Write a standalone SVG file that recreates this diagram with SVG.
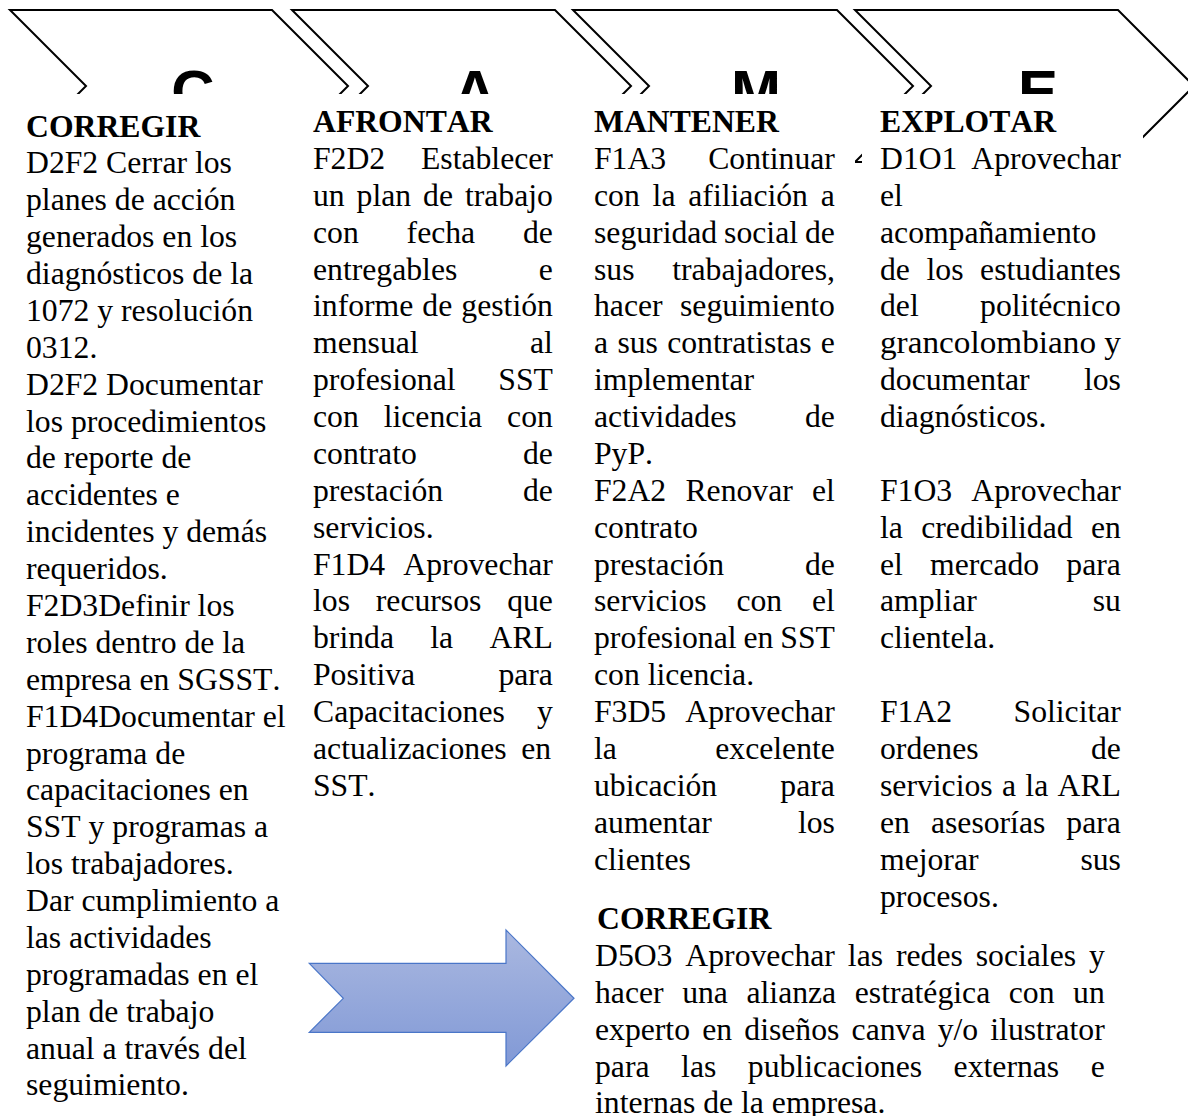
<svg xmlns="http://www.w3.org/2000/svg" width="1188" height="1116" viewBox="0 0 1188 1116">
<style>
.chev{fill:none;stroke:#000;stroke-width:2;stroke-linejoin:miter}
.big{font-family:"Liberation Sans",Arial,sans-serif;font-weight:bold;font-size:60px;fill:#000;text-anchor:middle}
.box{fill:#fff}
text.t{font-family:"Liberation Serif","Times New Roman",serif;font-size:31.7px;fill:#000;font-kerning:none}
text.h{font-weight:bold}
.arrow{fill:url(#ag);stroke:#4a76c8;stroke-width:1.2}
</style>
<defs>
<linearGradient id="ag" x1="0" y1="0" x2="0" y2="1">
<stop offset="0" stop-color="#aab8e0"/>
<stop offset="1" stop-color="#8199d6"/>
</linearGradient>
</defs>
<rect width="1188" height="1116" fill="#fff"/>
<g id="chevrons">
<g id="chev-c"><path class="chev" d="M10,10 H272 L348,86 L272,162 H10 L86,86 Z"/><text class="big" x="193" y="112">C</text></g>
<g id="chev-a"><path class="chev" d="M292,10 H555 L631,86 L555,162 H292 L368,86 Z"/><text class="big" x="475" y="112">A</text></g>
<g id="chev-m"><path class="chev" d="M573,10 H837 L913,86 L837,162 H573 L649,86 Z"/><text class="big" x="756" y="112">M</text></g>
<g id="chev-e"><path class="chev" d="M855,10 H1118 L1194,86 L1118,162 H855 L931,86 Z"/><text class="big" x="1038" y="112">E</text></g>
</g>
<g id="boxes">
<rect class="box" x="0" y="94" width="304" height="1022"/>
<rect class="box" x="304" y="94" width="283" height="1022"/>
<rect class="box" x="587" y="94" width="275" height="56"/>
<rect class="box" x="587" y="150" width="268" height="966"/>
<rect class="box" x="862" y="94" width="281" height="1022"/>
</g>
<g id="col-corregir">
<text class="t h" x="26" y="136.5">CORREGIR</text>
<text class="t" x="26" y="173.4">D2F2 Cerrar los</text>
<text class="t" x="26" y="210.3">planes de acción</text>
<text class="t" x="26" y="247.1">generados en los</text>
<text class="t" x="26" y="284">diagnósticos de la</text>
<text class="t" x="26" y="320.9">1072 y resolución</text>
<text class="t" x="26" y="357.8">0312.</text>
<text class="t" x="26" y="394.7">D2F2 Documentar</text>
<text class="t" x="26" y="431.5">los procedimientos</text>
<text class="t" x="26" y="468.4">de reporte de</text>
<text class="t" x="26" y="505.3">accidentes e</text>
<text class="t" x="26" y="542.2">incidentes y demás</text>
<text class="t" x="26" y="579.1">requeridos.</text>
<text class="t" x="26" y="615.9">F2D3Definir los</text>
<text class="t" x="26" y="652.8">roles dentro de la</text>
<text class="t" x="26" y="689.7">empresa en SGSST.</text>
<text class="t" x="26" y="726.6">F1D4Documentar el</text>
<text class="t" x="26" y="763.5">programa de</text>
<text class="t" x="26" y="800.3">capacitaciones en</text>
<text class="t" x="26" y="837.2">SST y programas a</text>
<text class="t" x="26" y="874.1">los trabajadores.</text>
<text class="t" x="26" y="911">Dar cumplimiento a</text>
<text class="t" x="26" y="947.9">las actividades</text>
<text class="t" x="26" y="984.7">programadas en el</text>
<text class="t" x="26" y="1021.6">plan de trabajo</text>
<text class="t" x="26" y="1058.5">anual a través del</text>
<text class="t" x="26" y="1095.4">seguimiento.</text>
</g>
<g id="col-afrontar">
<text class="t h" x="313" y="132">AFRONTAR</text>
<text class="t" x="313" y="168.9" word-spacing="27.84">F2D2 Establecer</text>
<text class="t" x="313" y="205.8" word-spacing="3.99">un plan de trabajo</text>
<text class="t" x="313" y="242.6" word-spacing="39.91">con fecha de</text>
<text class="t" x="313" y="279.5" word-spacing="73.64">entregables e</text>
<text class="t" x="313" y="316.4" word-spacing="1.14">informe de gestión</text>
<text class="t" x="313" y="353.3" word-spacing="103.53">mensual al</text>
<text class="t" x="313" y="390.2" word-spacing="34.84">profesional SST</text>
<text class="t" x="313" y="427" word-spacing="17">con licencia con</text>
<text class="t" x="313" y="463.9" word-spacing="98.27">contrato de</text>
<text class="t" x="313" y="500.8" word-spacing="71.86">prestación de</text>
<text class="t" x="313" y="537.7">servicios.</text>
<text class="t" x="313" y="574.6" word-spacing="10.24">F1D4 Aprovechar</text>
<text class="t" x="313" y="611.4" word-spacing="17.88">los recursos que</text>
<text class="t" x="313" y="648.3" word-spacing="28.44">brinda la ARL</text>
<text class="t" x="313" y="685.2" word-spacing="75.35">Positiva para</text>
<text class="t" x="313" y="722.1" word-spacing="24.32">Capacitaciones y</text>
<text class="t" x="313" y="759" word-spacing="6.85">actualizaciones en</text>
<text class="t" x="313" y="795.8">SST.</text>
</g>
<g id="col-mantener">
<text class="t h" x="594" y="132">MANTENER</text>
<text class="t" x="594" y="168.9" word-spacing="34.07">F1A3 Continuar</text>
<text class="t" x="594" y="205.8" word-spacing="4.92">con la afiliación a</text>
<text class="t" x="594" y="242.6" word-spacing="-0.99">seguridad social de</text>
<text class="t" x="594" y="279.5" word-spacing="29.72">sus trabajadores,</text>
<text class="t" x="594" y="316.4" word-spacing="9.47">hacer seguimiento</text>
<text class="t" x="594" y="353.3" word-spacing="1.39">a sus contratistas e</text>
<text class="t" x="594" y="390.2">implementar</text>
<text class="t" x="594" y="427" word-spacing="60.53">actividades de</text>
<text class="t" x="594" y="463.9">PyP.</text>
<text class="t" x="594" y="500.8" word-spacing="11.32">F2A2 Renovar el</text>
<text class="t" x="594" y="537.7">contrato</text>
<text class="t" x="594" y="574.6" word-spacing="72.86">prestación de</text>
<text class="t" x="594" y="611.4" word-spacing="21.9">servicios con el</text>
<text class="t" x="594" y="648.3" word-spacing="-1">profesional en SST</text>
<text class="t" x="594" y="685.2">con licencia.</text>
<text class="t" x="594" y="722.1" word-spacing="11.24">F3D5 Aprovechar</text>
<text class="t" x="594" y="759" word-spacing="90.49">la excelente</text>
<text class="t" x="594" y="795.8" word-spacing="55.27">ubicación para</text>
<text class="t" x="594" y="832.7" word-spacing="78.13">aumentar los</text>
<text class="t" x="594" y="869.6">clientes</text>
</g>
<g id="col-explotar">
<text class="t h" x="880" y="132">EXPLOTAR</text>
<text class="t" x="880" y="168.9" word-spacing="5.98">D1O1 Aprovechar</text>
<text class="t" x="880" y="205.8">el</text>
<text class="t" x="880" y="242.6">acompañamiento</text>
<text class="t" x="880" y="279.5" word-spacing="8.68">de los estudiantes</text>
<text class="t" x="880" y="316.4" word-spacing="53.46">del politécnico</text>
<text class="t" x="880" y="353.3" textLength="241" lengthAdjust="spacingAndGlyphs">grancolombiano y</text>
<text class="t" x="880" y="390.2" word-spacing="46.42">documentar los</text>
<text class="t" x="880" y="427">diagnósticos.</text>
<text class="t" x="880" y="500.8" word-spacing="11.24">F1O3 Aprovechar</text>
<text class="t" x="880" y="537.7" word-spacing="10.46">la credibilidad en</text>
<text class="t" x="880" y="574.6" word-spacing="19.28">el mercado para</text>
<text class="t" x="880" y="611.4" word-spacing="108.05">ampliar su</text>
<text class="t" x="880" y="648.3">clientela.</text>
<text class="t" x="880" y="722.1" word-spacing="53.43">F1A2 Solicitar</text>
<text class="t" x="880" y="759" word-spacing="104.56">ordenes de</text>
<text class="t" x="880" y="795.8" word-spacing="1.39">servicios a la ARL</text>
<text class="t" x="880" y="832.7" word-spacing="13.1">en asesorías para</text>
<text class="t" x="880" y="869.6" word-spacing="93.97">mejorar sus</text>
<text class="t" x="880" y="906.5">procesos.</text>
</g>
<g id="arrow"><path class="arrow" d="M309.3,963.3 H506 V930 L574,998.3 L506,1066 V1032.3 H309.3 L343.3,998.3 Z"/></g>
<g id="col-corregir-2">
<text class="t h" x="597" y="929">CORREGIR</text>
<text class="t" x="595" y="965.9" word-spacing="4.99">D5O3 Aprovechar las redes sociales y</text>
<text class="t" x="595" y="1002.8" word-spacing="10.64">hacer una alianza estratégica con un</text>
<text class="t" x="595" y="1039.6" word-spacing="4.27">experto en diseños canva y/o ilustrator</text>
<text class="t" x="595" y="1076.5" word-spacing="23.63">para las publicaciones externas e</text>
<text class="t" x="595" y="1113.4">internas de la empresa.</text>
</g>
</svg>
